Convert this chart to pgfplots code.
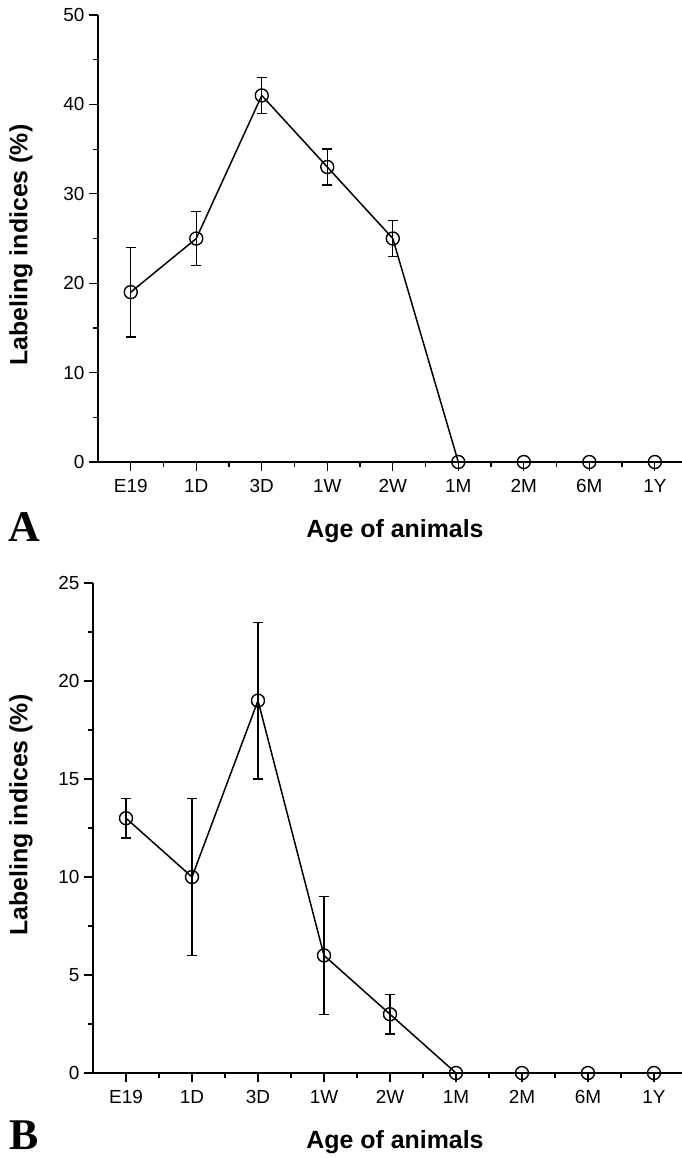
\documentclass[border=0pt]{standalone}
\usepackage{fontspec}
\setmainfont{Liberation Sans}
\newfontfamily\letterfont{Liberation Serif}
\usepackage{pgfplots}
\pgfplotsset{compat=1.18}
\usepackage{pgfplotstable}

% age index, labeling index (%), error (+/-)
\pgfplotstableread{
x y e
0 19 5
1 25 3
2 41 2
3 33 2
4 25 2
5 0 0
6 0 0
7 0 0
8 0 0
}\dataA

\pgfplotstableread{
x y e
0 13 1
1 10 4
2 19 4
3 6 3
4 3 1
5 0 0
6 0 0
7 0 0
8 0 0
}\dataB

\pgfplotsset{
  panel/.style={
    scale only axis,
    axis x line*=bottom,
    axis y line*=left,
    axis line style={line width=1.6bp},
    tick align=outside,
    major tick length=9bp,
    minor tick length=5bp,
    every tick/.style={line width=1.2bp, black},
    xmin=-0.5,
    xtick={0,...,8},
    xticklabels={E19,1D,3D,1W,2W,1M,2M,6M,1Y},
    minor xtick={0.5,1.5,...,7.5},
    tick label style={font=\fontsize{19}{21}\selectfont},
    xticklabel style={yshift=-5bp},
    yticklabel style={xshift=-1bp},
    /pgf/number format/assume math mode=true,
    clip=false,
  },
  series/.style={
    black, line width=1.5bp, no markers,
    error bars/.cd,
      y dir=both, y explicit,
      error bar style={line width=1.4bp},
      error mark options={rotate=90, mark size=5bp, line width=1.4bp},
  },
  dots/.style={
    only marks, mark=o, mark size=6.5bp,
    mark options={fill=white, draw=black, line width=1.4bp},
  },
}

\begin{document}
\begin{tikzpicture}
\useasboundingbox (0,0) rectangle (682bp,-1158bp);

% Panel A
\begin{axis}[panel,
  at={(98bp,-462bp)}, anchor=south west,
  width=585bp, height=447bp,
  xmax=8.43,
  ymin=0, ymax=50,
  ytick={0,10,...,50},
  minor ytick={5,15,...,45},
]
\addplot[series] table[x=x, y=y, y error=e] {\dataA};
\addplot[dots] table[x=x, y=y] {\dataA};
\end{axis}

% Panel B
\begin{axis}[panel,
  at={(93bp,-1073bp)}, anchor=south west,
  width=590bp, height=490bp,
  xmax=8.44,
  ymin=0, ymax=25,
  ytick={0,5,...,25},
  minor ytick={2.5,7.5,...,22.5},
]
\addplot[series] table[x=x, y=y, y error=e] {\dataB};
\addplot[dots] table[x=x, y=y] {\dataB};
\end{axis}

% axis titles and panel letters
\node[rotate=90, font=\bfseries\fontsize{25}{28}\selectfont] at (21bp,-245bp) {Labeling indices (\%)};
\node[rotate=90, font=\bfseries\fontsize{25}{28}\selectfont] at (21bp,-815bp) {Labeling indices (\%)};
\node[font=\bfseries\fontsize{25}{28}\selectfont] at (395bp,-531bp) {Age of animals};
\node[font=\bfseries\fontsize{25}{28}\selectfont] at (395bp,-1142bp) {Age of animals};
\node[font=\letterfont\bfseries\fontsize{44}{48}\selectfont] at (24bp,-527bp) {A};
\node[font=\letterfont\bfseries\fontsize{44}{48}\selectfont] at (24bp,-1135bp) {B};
\end{tikzpicture}
\end{document}
